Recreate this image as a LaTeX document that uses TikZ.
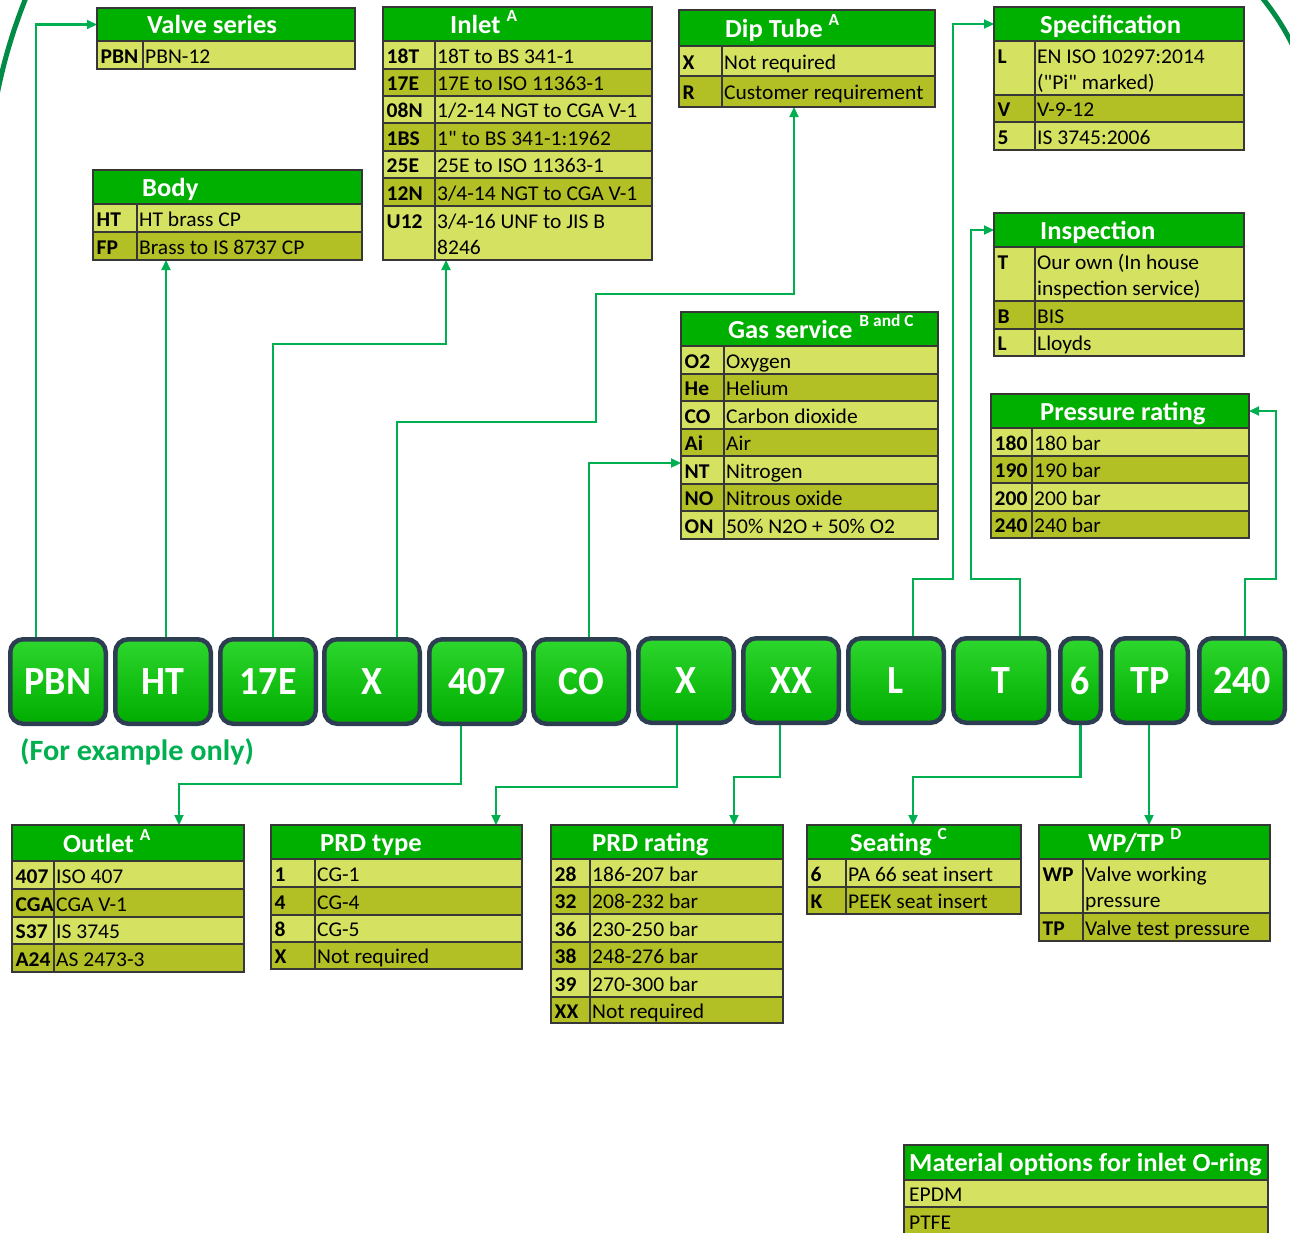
\documentclass[tikz,border=0pt]{standalone}
\usepackage{fontspec}
\setmainfont{Carlito}[Ligatures=TeXOff, FakeStretch=1.025]
\newfontfamily\codefont[FakeStretch=0.95]{Carlito}
\usetikzlibrary{arrows.meta}
\pgfdeclarelayer{bglayer}
\pgfdeclarelayer{connlayer}
\pgfsetlayers{bglayer,connlayer,main}
\definecolor{hdr}{RGB}{0,176,0}
\definecolor{rowL}{RGB}{213,225,96}
\definecolor{rowD}{RGB}{178,192,38}
\definecolor{rulecol}{RGB}{55,55,55}
\definecolor{conngreen}{RGB}{0,176,80}
\definecolor{arcgreen}{RGB}{0,140,70}
\definecolor{boxrim}{RGB}{45,62,82}
\definecolor{boxtop}{RGB}{45,215,45}
\definecolor{boxbot}{RGB}{0,172,0}
\newcommand\supfont{\fontsize{17}{17}\selectfont}
\tikzset{
 rowcell/.style={draw=rulecol, line width=1.1pt},
 rowrule/.style={draw=rulecol, line width=1.1pt},
 codetxt/.style={anchor=base west, inner sep=0pt, font=\fontsize{21}{26}\selectfont\bfseries},
 desctxt/.style={anchor=base west, inner sep=0pt, font=\fontsize{21}{26}\selectfont},
 hdrbox/.style={anchor=north west, fill=hdr, draw=rulecol, line width=1.1pt, inner sep=0pt, outer sep=0pt},
 tabframe/.style={anchor=north west, draw=rulecol, line width=1.3pt, inner sep=0pt, outer sep=0pt},
 titletxt/.style={anchor=base west, inner sep=0pt, text=white, font=\fontsize{26}{30}\selectfont\bfseries},
 codebox/.style={rounded corners=13pt, draw=boxrim, line width=4.5pt, top color=boxtop, bottom color=boxbot, inner sep=0pt, minimum height=84.5pt, text=white, font=\codefont\fontsize{40}{40}\selectfont\bfseries},
 conn/.style={draw=conngreen, line width=2.2pt, -{Triangle[length=10pt,width=9pt]}},
 arcline/.style={draw=arcgreen, line width=5pt},
 notetxt/.style={anchor=base west, inner sep=0pt, text=conngreen, font=\fontsize{29.5}{31}\selectfont\bfseries},
}
\newcommand\thead[7]{%
  \node[hdrbox, minimum width={#3-#2}, minimum height={#5-#4}] (#1H) at (#2,#4) {};
  \node[titletxt] (#1T) at (#6,{(#4+#5)/2+9}) {#7};
}
\newcommand\tframe[5]{%
  \node[tabframe, minimum width={#3-#2}, minimum height={#5-#4}] (#1) at (#2,#4) {};
}
\newcommand\trow[9]{%
  \filldraw[rowcell, fill=#7] (#2,#5) rectangle (#4,#6);
  \draw[rowrule] (#3,#5) -- (#3,#6);
  \node[codetxt] (#1c) at ({#2+3.5},{(#5+#6)/2+8}) {#8};
  \node[desctxt] (#1d) at ({#3+2},{(#5+#6)/2+8}) {#9};
}
\newcommand\trowii[9]{%
  \filldraw[rowcell, fill=#7] (#2,#5) rectangle (#4,#6);
  \draw[rowrule] (#3,#5) -- (#3,#6);
  \node[codetxt] (#1c) at ({#2+3.5},{#5+22}) {#8};
  \node[desctxt] (#1d) at ({#3+2},{#5+22}) {#9};
}
\begin{document}
\begin{tikzpicture}[x=1pt,y=-1pt]
\useasboundingbox (0,0) rectangle (1290,1232);
\clip (0,0) rectangle (1290,1232);
\begin{pgfonlayer}{bglayer}
\fill[white] (0,0) rectangle (1290,1232);
\draw[arcline] (27,-5) .. controls (15,25) and (5,55) .. (-3,95);
\draw[arcline] (1260,-5) .. controls (1272,10) and (1283,25) .. (1295,50);
\end{pgfonlayer}

% Valve series
\thead{vs}{97}{355}{8}{41}{147}{Valve series}
\trow{vs1}{97}{143}{355}{41}{69}{rowL}{PBN}{PBN-12}
\tframe{vs}{97}{355}{8}{69}
% Body
\thead{body}{93}{362}{170}{204}{142}{Body}
\trow{body1}{93}{137}{362}{204}{232}{rowL}{HT}{HT brass CP}
\trow{body2}{93}{137}{362}{232}{260}{rowD}{FP}{Brass to IS 8737 CP}
\tframe{body}{93}{362}{170}{260}
% Inlet
\thead{inlet}{383}{652}{7}{41}{450}{Inlet\hspace{6pt}\raisebox{12pt}{\supfont A}}
\trow{inlet1}{383}{435}{652}{41}{69}{rowL}{18T}{18T to BS 341-1}
\trow{inlet2}{383}{435}{652}{69}{96}{rowD}{17E}{17E to ISO 11363-1}
\trow{inlet3}{383}{435}{652}{96}{123}{rowL}{08N}{1/2-14 NGT to CGA V-1}
\trow{inlet4}{383}{435}{652}{123}{151}{rowD}{1BS}{1" to BS 341-1:1962}
\trow{inlet5}{383}{435}{652}{151}{178}{rowL}{25E}{25E to ISO 11363-1}
\trow{inlet6}{383}{435}{652}{178}{206}{rowD}{12N}{3/4-14 NGT to CGA V-1}
\trowii{inlet7}{383}{435}{652}{206}{260}{rowL}{U12}{3/4-16 UNF to JIS B}
\node[desctxt] (inlet7e) at (437,254) {8246};
\tframe{inlet}{383}{652}{7}{260}
% Dip tube
\thead{dip}{679}{935}{10}{46}{725}{Dip Tube\hspace{6pt}\raisebox{12pt}{\supfont A}}
\trow{dip1}{679}{722}{935}{46}{76}{rowL}{X}{Not required}
\trow{dip2}{679}{722}{935}{76}{107}{rowD}{R}{Customer requirement}
\tframe{dip}{679}{935}{10}{107}
% Specification
\thead{spec}{994}{1244}{7}{41}{1040}{Specification}
\trowii{spec1}{994}{1035}{1244}{41}{95}{rowL}{L}{EN ISO 10297:2014}
\node[desctxt] (spec1e) at (1037,89) {("Pi" marked)};
\trow{spec2}{994}{1035}{1244}{95}{122}{rowD}{V}{V-9-12}
\trow{spec3}{994}{1035}{1244}{122}{150}{rowL}{5}{IS 3745:2006}
\tframe{spec}{994}{1244}{7}{150}
% Inspection
\thead{insp}{994}{1244}{213}{247}{1040}{Inspection}
\trowii{insp1}{994}{1035}{1244}{247}{301}{rowL}{T}{Our own (In house}
\node[desctxt] (insp1e) at (1037,295) {inspection service)};
\trow{insp2}{994}{1035}{1244}{301}{329}{rowD}{B}{BIS}
\trow{insp3}{994}{1035}{1244}{329}{356}{rowL}{L}{Lloyds}
\tframe{insp}{994}{1244}{213}{356}
% Gas service
\thead{gas}{681}{938}{312}{346}{728}{Gas service\hspace{7pt}\raisebox{12pt}{\supfont B and C}}
\trow{gas1}{681}{724}{938}{346}{374}{rowL}{O2}{Oxygen}
\trow{gas2}{681}{724}{938}{374}{401}{rowD}{He}{Helium}
\trow{gas3}{681}{724}{938}{401}{429}{rowL}{CO}{Carbon dioxide}
\trow{gas4}{681}{724}{938}{429}{456}{rowD}{Ai}{Air}
\trow{gas5}{681}{724}{938}{456}{484}{rowL}{NT}{Nitrogen}
\trow{gas6}{681}{724}{938}{484}{511}{rowD}{NO}{Nitrous oxide}
\trow{gas7}{681}{724}{938}{511}{539}{rowL}{ON}{50\% N2O + 50\% O2}
\tframe{gas}{681}{938}{312}{539}
% Pressure rating
\thead{pres}{991}{1249}{394}{428}{1040}{Pressure rating}
\trow{pres1}{991}{1032}{1249}{428}{456}{rowL}{180}{180 bar}
\trow{pres2}{991}{1032}{1249}{456}{483}{rowD}{190}{190 bar}
\trow{pres3}{991}{1032}{1249}{483}{511}{rowL}{200}{200 bar}
\trow{pres4}{991}{1032}{1249}{511}{538}{rowD}{240}{240 bar}
\tframe{pres}{991}{1249}{394}{538}
% Outlet
\thead{outlet}{12}{244}{825}{861}{63}{Outlet\hspace{6pt}\raisebox{12pt}{\supfont A}}
\trow{outlet1}{12}{54}{244}{861}{889}{rowL}{407}{ISO 407}
\trow{outlet2}{12}{54}{244}{889}{917}{rowD}{CGA}{CGA V-1}
\trow{outlet3}{12}{54}{244}{917}{944}{rowL}{S37}{IS 3745}
\trow{outlet4}{12}{54}{244}{944}{972}{rowD}{A24}{AS 2473-3}
\tframe{outlet}{12}{244}{825}{972}
% PRD type
\thead{prdt}{271}{522}{825}{859}{320}{PRD type}
\trow{prdt1}{271}{315}{522}{859}{887}{rowL}{1}{CG-1}
\trow{prdt2}{271}{315}{522}{887}{915}{rowD}{4}{CG-4}
\trow{prdt3}{271}{315}{522}{915}{942}{rowL}{8}{CG-5}
\trow{prdt4}{271}{315}{522}{942}{969}{rowD}{X}{Not required}
\tframe{prdt}{271}{522}{825}{969}
% PRD rating
\thead{prdr}{551}{783}{825}{859}{592}{PRD rating}
\trow{prdr1}{551}{590}{783}{859}{887}{rowL}{28}{186-207 bar}
\trow{prdr2}{551}{590}{783}{887}{914}{rowD}{32}{208-232 bar}
\trow{prdr3}{551}{590}{783}{914}{942}{rowL}{36}{230-250 bar}
\trow{prdr4}{551}{590}{783}{942}{969}{rowD}{38}{248-276 bar}
\trow{prdr5}{551}{590}{783}{969}{997}{rowL}{39}{270-300 bar}
\trow{prdr6}{551}{590}{783}{997}{1023}{rowD}{XX}{Not required}
\tframe{prdr}{551}{783}{825}{1023}
% Seating
\thead{seat}{807}{1021}{825}{859}{850}{Seating\hspace{6pt}\raisebox{12pt}{\supfont C}}
\trow{seat1}{807}{846}{1021}{859}{887}{rowL}{6}{PA 66 seat insert}
\trow{seat2}{807}{846}{1021}{887}{914}{rowD}{K}{PEEK seat insert}
\tframe{seat}{807}{1021}{825}{914}
% WP/TP
\thead{wptp}{1039}{1270}{825}{859}{1088}{WP/TP\hspace{6pt}\raisebox{12pt}{\supfont D}}
\trowii{wptp1}{1039}{1083}{1270}{859}{913}{rowL}{WP}{Valve working}
\node[desctxt] (wptp1e) at (1085,907) {pressure};
\trow{wptp2}{1039}{1083}{1270}{913}{941}{rowD}{TP}{Valve test pressure}
\tframe{wptp}{1039}{1270}{825}{941}
% Material options
\thead{mat}{904}{1268}{1145}{1180}{909}{Material options for inlet O-ring}
\filldraw[rowcell, fill=rowL] (904,1180) rectangle (1268,1207);
\node[desctxt] (mat1d) at (909,1201.5) {EPDM};
\filldraw[rowcell, fill=rowD] (904,1207) rectangle (1268,1240);
\node[desctxt] (mat2d) at (909,1229) {PTFE};
\tframe{mat}{904}{1268}{1145}{1240}

% code boxes
\node[codebox, minimum width=95.5pt] (cPBN) at (58,681.5) {PBN};
\node[codebox, minimum width=95.5pt] (cHT) at (163,681.5) {HT};
\node[codebox, minimum width=95.5pt] (c17E) at (268,681.5) {17E};
\node[codebox, minimum width=95.5pt] (cXa) at (372,681.5) {X};
\node[codebox, minimum width=95.5pt] (c407) at (477,681.5) {407};
\node[codebox, minimum width=95.5pt] (cCO) at (581,681.5) {CO};
\node[codebox, minimum width=95.5pt] (cXb) at (686,680.5) {X};
\node[codebox, minimum width=95.5pt] (cXX) at (791,680.5) {XX};
\node[codebox, minimum width=95.5pt] (cL) at (896,680.5) {L};
\node[codebox, minimum width=95.5pt] (cT) at (1001,680.5) {T};
\node[codebox, minimum width=40.5pt] (c6) at (1080.5,680.5) {6};
\node[codebox, minimum width=75.5pt] (cTP) at (1150,680.5) {TP};
\node[codebox, minimum width=85.5pt] (c240) at (1242,680.5) {240};

% connectors (behind boxes and tables)
\begin{pgfonlayer}{connlayer}
\draw[conn] ([xshift=-22pt]cPBN.north) |- (vsH.west);
\draw[conn] ([xshift=3pt]cHT.north) -- ([xshift=-61.5pt]body.south);
\draw[conn] ([xshift=5pt]c17E.north) |- (446,344) -- ([xshift=-71.5pt]inlet.south);
\draw[conn] ([xshift=25pt]cXa.north) |- (596,422) |- (794,294) -- ([xshift=-13pt]dip.south);
\draw[conn] ([xshift=8pt]cCO.north) |- ([yshift=-37.5pt]gas.west);
\draw[conn] ([xshift=17pt]cL.north) |- (953,579) |- (specH.west);
\draw[conn] ([xshift=19pt]cT.north) |- (971,579) |- (inspH.west);
\draw[conn] ([xshift=3pt]c240.north) |- (1276,579) |- (presH.east);
\draw[conn] ([xshift=-16pt]c407.south) |- (179,784) -- ([xshift=51pt]outlet.north);
\draw[conn] ([xshift=-9pt]cXb.south) |- (496,787) -- ([xshift=99.5pt]prdt.north);
\draw[conn] ([xshift=-11pt]cXX.south) |- (734,777) -- ([xshift=67pt]prdr.north);
\draw[conn] (c6.south) |- (913,777) -- ([xshift=-1pt]seat.north);
\draw[conn] ([xshift=-1pt]cTP.south) -- ([xshift=-5.5pt]wptp.north);
\end{pgfonlayer}

\node[notetxt] (note) at (20,760) {(For example only)};
\end{tikzpicture}
\end{document}
